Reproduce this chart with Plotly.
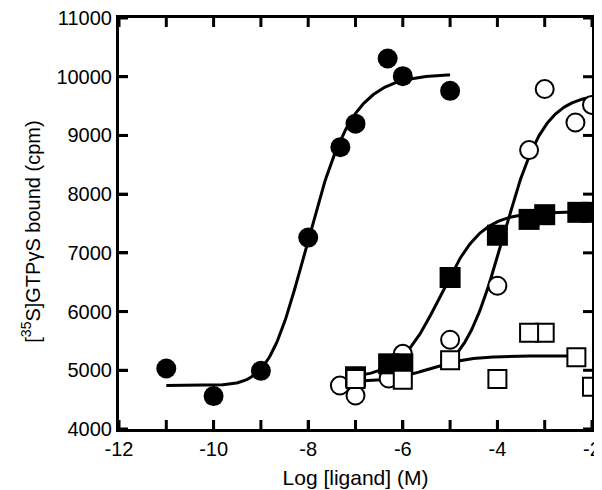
import numpy as np
import plotly.graph_objects as go

# ---- data ----
fc_x = [-11, -10, -9, -8, -7.32, -7, -6.32, -6, -5]
fc_y = [5030, 4560, 4990, 7260, 8800, 9200, 10310, 10010, 9760]

oc_x = [-7.33, -7, -6.3, -6, -5, -4, -3.33, -3, -2.35, -2]
oc_y = [4740, 4570, 4860, 5280, 5520, 6440, 8750, 9790, 9220, 9520]

fs_x = [-7, -6.3, -6, -5, -4, -3.33, -3, -2.3, -2]
fs_y = [4890, 5110, 5110, 6580, 7300, 7570, 7650, 7690, 7690]

os_x = [-7, -6, -5, -4, -3.0, -3.33, -2.33, -2]
os_y = [4850, 4840, 5170, 4850, 5640, 5640, 5220, 4720]

# fitted curve parameters: bottom, top, logEC50, hill, asymmetry, x start, x end
fit_fc = [4740, 10050, -8.564, 0.8, 2.5, -11, -5]
fit_oc = [4820, 9720, -3.88, 1.0, 1.0, -5, -2]
fit_fs = [4860, 7700, -5.2, 1.0, 1.0, -7, -2]
fit_os = [4800, 5245, -5.45, 1.0, 1.0, -7, -2.33]

x_tickvals = [-12, -10, -8, -6, -4, -2]
x_ticktext = ["-12", "-10", "-8", "-6", "-4", "-2"]
x_tickmarks = list(range(-12, -1))
y_tickvals = list(range(4000, 11001, 1000))
y_ticktext = [str(v) for v in y_tickvals]

X_RANGE = [-12, -2]
Y_RANGE = [4000, 11000]
W, H = 602, 490
MARGIN = dict(l=111, r=18, t=10, b=69)   # page body adds an 8px offset
TICK_PX = 9


def curve(p):
    bottom, top, c, h, s, x0, x1 = p
    xs = np.linspace(x0, x1, 200)
    ys = bottom + (top - bottom) / (1 + 10 ** (h * (c - xs))) ** s
    return xs, ys


FONT = "Liberation Sans, Arial, sans-serif"
fig = go.Figure()

# inward tick marks on all four sides (axis decoration)
plot_w = W - MARGIN["l"] - MARGIN["r"]
plot_h = H - MARGIN["t"] - MARGIN["b"]
tx = TICK_PX * (X_RANGE[1] - X_RANGE[0]) / plot_w
ty = TICK_PX * (Y_RANGE[1] - Y_RANGE[0]) / plot_h
tk_x, tk_y = [], []
for v in x_tickmarks:
    tk_x += [v, v, None, v, v, None]
    tk_y += [Y_RANGE[0], Y_RANGE[0] + ty, None, Y_RANGE[1], Y_RANGE[1] - ty, None]
for v in y_tickvals:
    tk_x += [X_RANGE[0], X_RANGE[0] + tx, None, X_RANGE[1], X_RANGE[1] - tx, None]
    tk_y += [v, v, None, v, v, None]
fig.add_trace(go.Scatter(x=tk_x, y=tk_y, mode="lines", hoverinfo="skip",
                         line=dict(color="black", width=3), cliponaxis=False))

for p in (fit_fc, fit_oc, fit_fs, fit_os):
    xs, ys = curve(p)
    fig.add_trace(go.Scatter(x=xs, y=ys, mode="lines",
                             line=dict(color="black", width=3),
                             hoverinfo="skip", cliponaxis=False))

fig.add_trace(go.Scatter(x=fc_x, y=fc_y, mode="markers", cliponaxis=False,
                         marker=dict(symbol="circle", size=20, color="black",
                                     line=dict(width=0))))
fig.add_trace(go.Scatter(x=oc_x, y=oc_y, mode="markers", cliponaxis=False,
                         marker=dict(symbol="circle", size=18, color="white",
                                     line=dict(width=2, color="black"))))
fig.add_trace(go.Scatter(x=fs_x, y=fs_y, mode="markers", cliponaxis=False,
                         marker=dict(symbol="square", size=21, color="black",
                                     line=dict(width=0))))
fig.add_trace(go.Scatter(x=os_x, y=os_y, mode="markers", cliponaxis=False,
                         marker=dict(symbol="square", size=18, color="white",
                                     line=dict(width=2, color="black"))))

axis_common = dict(showline=True, linewidth=3, linecolor="black",
                   mirror=True, ticks="inside", ticklen=9, tickwidth=3,
                   tickcolor="black", showgrid=False, zeroline=False,
                   automargin=False, ticklabeloverflow="allow",
                   tickfont=dict(family=FONT, size=20, color="black"))

fig.update_xaxes(range=X_RANGE, tickvals=x_tickvals, ticktext=x_ticktext,
                 title=dict(text="Log [ligand] (M)", standoff=12,
                            font=dict(family=FONT, size=21, color="black")),
                 **axis_common)
fig.update_yaxes(range=Y_RANGE, tickvals=y_tickvals, ticktext=y_ticktext,
                 **axis_common)

fig.add_annotation(text="[<sup>35</sup>S]GTPγS bound (cpm)", textangle=-90,
                   xref="paper", yref="paper", x=0, y=0.48, xanchor="center",
                   yanchor="middle", xshift=-88, showarrow=False,
                   font=dict(family=FONT, size=20, color="black"))

fig.update_layout(width=W, height=H, showlegend=False, margin=MARGIN,
                  plot_bgcolor="white", paper_bgcolor="white")

fig.write_html("out.html")
